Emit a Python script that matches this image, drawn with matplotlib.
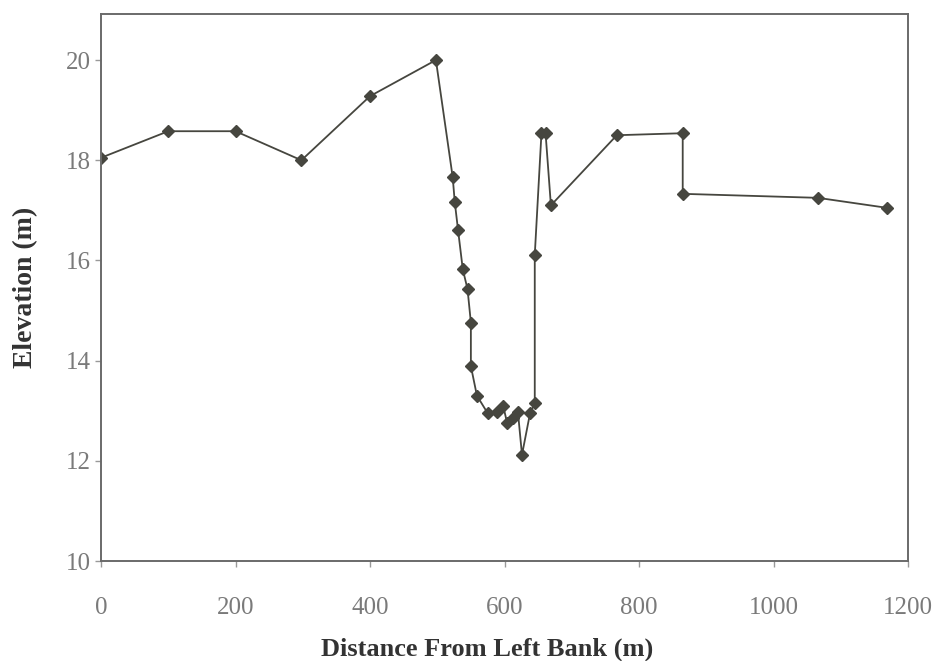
import matplotlib
matplotlib.use("Agg")
import matplotlib.pyplot as plt

# Cross-section survey data
distance = [0, 100, 200, 298, 400, 498, 523, 526, 531, 538, 545, 550, 550, 559,
            575, 589, 598, 604, 612, 620, 626, 638, 645, 645, 655, 661, 669,
            767, 865, 865, 1066, 1169]
elevation = [18.05, 18.58, 18.58, 18.0, 19.28, 20.0, 17.66, 17.17, 16.6, 15.82,
             15.43, 14.76, 13.89, 13.3, 12.95, 12.97, 13.1, 12.75, 12.85, 12.97,
             12.12, 12.95, 13.15, 16.11, 18.55, 18.55, 17.1, 18.5, 18.54, 17.33,
             17.25, 17.05]
x_ticks = [0, 200, 400, 600, 800, 1000, 1200]
y_ticks = [10, 12, 14, 16, 18, 20]

fig = plt.figure(figsize=(9.38, 6.61), dpi=100)
ax = fig.add_axes([101/938, 1 - 561/661, (908 - 101)/938, (561 - 14)/661])

line_col = "#46463f"
ax.plot(distance, elevation, color=line_col, lw=1.3, marker="D", ms=6.5,
        mfc=line_col, mec=line_col)

ax.set_xlim(0, 1200)
ax.set_ylim(10, 20.92)
ax.set_xticks(x_ticks)
ax.set_yticks(y_ticks)

tick_col = "#7a7a7a"
serif = ["Liberation Serif", "DejaVu Serif"]
for lab in ax.get_xticklabels() + ax.get_yticklabels():
    lab.set_family(serif)
    lab.set_fontsize(18)
    lab.set_color(tick_col)
ax.tick_params(axis="both", direction="out", length=4, width=1, color="#999999")
ax.tick_params(axis="x", pad=22)
ax.tick_params(axis="y", pad=3)

for s in ax.spines.values():
    s.set_color("#6a6a6a")
    s.set_linewidth(1.4)

ax.set_xlabel("Distance From Left Bank (m)", family=serif, fontweight="bold",
              fontsize=19, color="#333333", labelpad=12)
ax.xaxis.set_label_coords(0.478, -0.14)
ax.set_ylabel("Elevation (m)", family=serif, fontweight="bold",
              fontsize=20, color="#333333", labelpad=20)

fig.savefig("out.png", dpi=100, facecolor="white")
